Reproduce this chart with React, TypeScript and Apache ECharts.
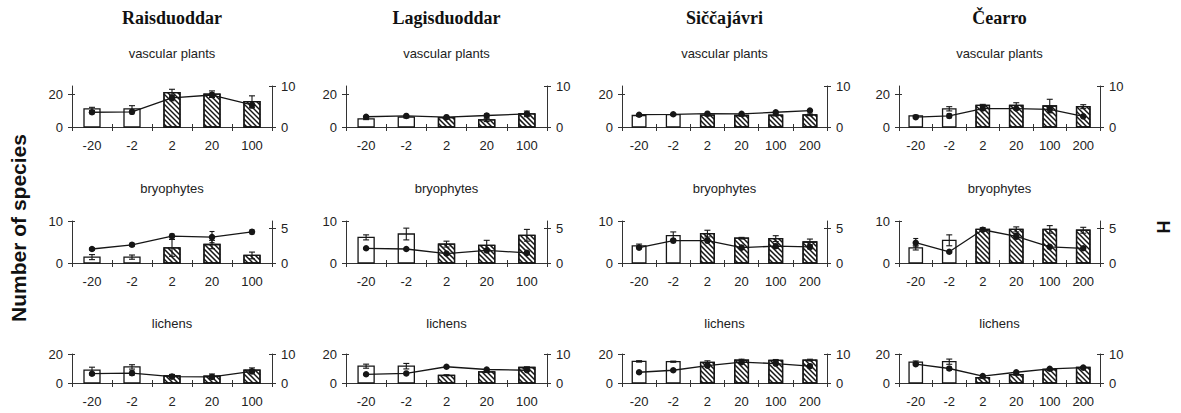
import React, { useEffect, useRef } from "react";
import * as echarts from "echarts";

// ---------- data ----------
const catsFive = ["-20", "-2", "2", "20", "100"];
const catsSix = ["-20", "-2", "2", "20", "100", "200"];
const sites = ["Raisduoddar", "Lagisduoddar", "Siččajávri", "Čearro"];
const groups = ["vascular plants", "bryophytes", "lichens"];

// Raisduoddar
const raisVasc = [11, 11, 21, 20, 15.5];
const raisVascErr = [1, 2, 2, 2, 3.5];
const raisVascH = [3.6, 3.7, 7.1, 7.8, 5.4];
const raisVascHErr = [0.4, 0.5, 0.7, 0.6, 0.8];
const raisBryo = [1.4, 1.4, 3.6, 4.4, 1.8];
const raisBryoErr = [0.6, 0.5, 2.0, 1.0, 0.8];
const raisBryoH = [2.0, 2.6, 3.85, 3.7, 4.45];
const raisBryoHErr = [0.2, 0.25, 0.3, 0.8, 0.3];
const raisLich = [8.9, 11.1, 4.9, 4.7, 8.9];
const raisLichErr = [2, 1.5, 1, 1.5, 1.5];
const raisLichH = [3.2, 3.4, 2.2, 2.1, 4.0];
const raisLichHErr = [0.5, 0.8, 0.4, 0.6, 0.6];

// Lagisduoddar
const lagiVasc = [5, 6, 5.7, 4.3, 8];
const lagiVascErr = [0.5, 0.5, 0.5, 1, 1.7];
const lagiVascH = [2.5, 2.7, 2.4, 2.8, 3.2];
const lagiVascHErr = [0.2, 0.2, 0.2, 0.45, 0.3];
const lagiBryo = [6.1, 6.9, 4.5, 4.2, 6.6];
const lagiBryoErr = [0.6, 1.4, 0.7, 1.2, 1.4];
const lagiBryoH = [2.1, 2.0, 1.35, 1.8, 1.45];
const lagiBryoHErr = [0.1, 0.1, 0.15, 0.2, 0.2];
const lagiLich = [11.6, 11.6, 5.3, 7.7, 10.7];
const lagiLichErr = [1.4, 1.9, 0.4, 0.5, 0.5];
const lagiLichH = [3.0, 3.3, 5.6, 4.65, 4.4];
const lagiLichHErr = [0.3, 0.3, 0.2, 0.3, 0.3];

// Siččajávri
const sicVasc = [7, 7.6, 7.2, 7, 7.2, 7.4];
const sicVascErr = [0.4, 0.4, 0.5, 0.4, 0.5, 0.5];
const sicVascH = [3.0, 3.1, 3.25, 3.2, 3.6, 4.0];
const sicVascHErr = [0.15, 0.15, 0.2, 0.15, 0.2, 0.2];
const sicBryo = [4.1, 6.5, 7.0, 5.9, 5.8, 5.0];
const sicBryoErr = [0.4, 0.9, 0.8, 0.2, 0.7, 0.7];
const sicBryoH = [2.2, 3.2, 3.2, 2.2, 2.4, 2.3];
const sicBryoHErr = [0.2, 0.3, 0.3, 0.2, 0.3, 0.3];
const sicLich = [14.9, 14.7, 14.2, 15.8, 15.6, 15.8];
const sicLichErr = [0.5, 0.4, 1.1, 0.6, 0.6, 0.6];
const sicLichH = [3.7, 4.4, 6.0, 7.2, 6.7, 5.8];
const sicLichHErr = [0.3, 0.3, 0.6, 0.4, 0.5, 0.5];

// Čearro
const cearVasc = [6.8, 11.1, 13.2, 13.2, 12.8, 12.4];
const cearVascErr = [0.4, 1.3, 0.6, 1.6, 4.1, 1.2];
const cearVascH = [2.4, 2.7, 4.5, 4.5, 4.3, 2.6];
const cearVascHErr = [0.2, 0.5, 0.4, 0.3, 0.8, 0.3];
const cearBryo = [3.6, 5.4, 8.0, 8.0, 8.0, 7.8];
const cearBryoErr = [0.5, 1.3, 0.4, 0.6, 0.9, 0.7];
const cearBryoH = [2.9, 1.6, 4.75, 3.8, 2.3, 2.1];
const cearBryoHErr = [0.6, 0.1, 0.2, 0.4, 0.2, 0.2];
const cearLich = [14.4, 14.7, 3.7, 5.8, 9.3, 10.7];
const cearLichErr = [0.8, 1.8, 0.3, 0.4, 0.4, 0.4];
const cearLichH = [6.5, 5.0, 2.4, 3.7, 4.9, 5.3];
const cearLichHErr = [0.4, 0.6, 0.2, 0.2, 0.2, 0.2];

// left (species) axis per row, right (H) axis per row
const leftMax = [25, 10, 20];
const leftTicks = [[0, 20], [0, 10], [0, 20]];
const rightMax = [10, 6, 10];
const rightTicks = [[0, 10], [0, 5], [0, 10]];

// ---------- layout ----------
const colX = [[72, 272], [346, 547], [622, 827], [899, 1100]];
const rowY = [[86, 127], [221, 263], [354, 383]];
const subtitleY = [53, 188, 323];

const siteCats = [catsFive, catsFive, catsSix, catsSix];
const panelData = [
  [
    [raisVasc, raisVascErr, raisVascH, raisVascHErr],
    [raisBryo, raisBryoErr, raisBryoH, raisBryoHErr],
    [raisLich, raisLichErr, raisLichH, raisLichHErr],
  ],
  [
    [lagiVasc, lagiVascErr, lagiVascH, lagiVascHErr],
    [lagiBryo, lagiBryoErr, lagiBryoH, lagiBryoHErr],
    [lagiLich, lagiLichErr, lagiLichH, lagiLichHErr],
  ],
  [
    [sicVasc, sicVascErr, sicVascH, sicVascHErr],
    [sicBryo, sicBryoErr, sicBryoH, sicBryoHErr],
    [sicLich, sicLichErr, sicLichH, sicLichHErr],
  ],
  [
    [cearVasc, cearVascErr, cearVascH, cearVascHErr],
    [cearBryo, cearBryoErr, cearBryoH, cearBryoHErr],
    [cearLich, cearLichErr, cearLichH, cearLichHErr],
  ],
];

const INK = "#161616";
const AXIS = "#333";
const SANS = '"Liberation Sans", Arial, sans-serif';
const SERIF = '"Liberation Serif", "Times New Roman", serif';

function barRender(params: any, api: any) {
  const idx = api.value(0);
  const v = api.value(1);
  const e = api.value(2);
  const hatched = api.value(3) === 1;
  const base = api.coord([idx, 0]);
  const top = api.coord([idx, v]);
  const bw = api.size([1, 0])[0] * 0.4;
  const x0 = base[0] - bw / 2;
  const x1 = base[0] + bw / 2;
  const y0 = top[1];
  const y1 = base[1];
  const children: any[] = [
    {
      type: "rect",
      shape: { x: x0, y: y0, width: bw, height: y1 - y0 },
      style: { fill: "#fff", stroke: INK, lineWidth: 1.3 },
    },
  ];
  if (hatched) {
    const s = 5;
    const cStart = Math.ceil((y0 - x1) / s) * s;
    for (let c = cStart; c <= y1 - x0; c += s) {
      const xa = Math.max(x0, y0 - c);
      const xb = Math.min(x1, y1 - c);
      if (xb - xa > 0.5) {
        children.push({
          type: "line",
          shape: { x1: xa, y1: xa + c, x2: xb, y2: xb + c },
          style: { stroke: INK, lineWidth: 1.5 },
        });
      }
    }
    children.push({
      type: "rect",
      shape: { x: x0, y: y0, width: bw, height: y1 - y0 },
      style: { fill: "none", stroke: INK, lineWidth: 1.3 },
    });
  }
  const hi = api.coord([idx, v + e]);
  const lo = api.coord([idx, Math.max(0, v - e)]);
  const cap = 3;
  children.push(
    { type: "line", shape: { x1: hi[0], y1: hi[1], x2: lo[0], y2: lo[1] }, style: { stroke: INK, lineWidth: 1.1 } },
    { type: "line", shape: { x1: hi[0] - cap, y1: hi[1], x2: hi[0] + cap, y2: hi[1] }, style: { stroke: INK, lineWidth: 1.1 } },
    { type: "line", shape: { x1: lo[0] - cap, y1: lo[1], x2: lo[0] + cap, y2: lo[1] }, style: { stroke: INK, lineWidth: 1.1 } }
  );
  return { type: "group", children };
}

function errRender(params: any, api: any) {
  const idx = api.value(0);
  const v = api.value(1);
  const e = api.value(2);
  const hi = api.coord([idx, v + e]);
  const lo = api.coord([idx, v - e]);
  const cap = 2.5;
  return {
    type: "group",
    children: [
      { type: "line", shape: { x1: hi[0], y1: hi[1], x2: lo[0], y2: lo[1] }, style: { stroke: INK, lineWidth: 1.1 } },
      { type: "line", shape: { x1: hi[0] - cap, y1: hi[1], x2: hi[0] + cap, y2: hi[1] }, style: { stroke: INK, lineWidth: 1.1 } },
      { type: "line", shape: { x1: lo[0] - cap, y1: lo[1], x2: lo[0] + cap, y2: lo[1] }, style: { stroke: INK, lineWidth: 1.1 } },
    ],
  };
}

function buildOption() {
  const grid: any[] = [];
  const xAxis: any[] = [];
  const yAxis: any[] = [];
  const series: any[] = [];
  const graphic: any[] = [];

  sites.forEach((site, c) => {
    const cx = (colX[c][0] + colX[c][1]) / 2;
    graphic.push({
      type: "text",
      x: cx,
      y: 18,
      style: {
        text: site,
        font: `bold 18px ${SERIF}`,
        fill: "#111",
        align: "center",
        verticalAlign: "middle",
        textAlign: "center",
        textVerticalAlign: "middle",
      },
    });
  });

  for (let c = 0; c < 4; c++) {
    for (let r = 0; r < 3; r++) {
      const p = grid.length;
      const cats = siteCats[c];
      const [n, ne, h, he] = panelData[c][r];
      const cx = (colX[c][0] + colX[c][1]) / 2;
      grid.push({
        left: colX[c][0],
        top: rowY[r][0],
        width: colX[c][1] - colX[c][0],
        height: rowY[r][1] - rowY[r][0],
        containLabel: false,
      });
      graphic.push({
        type: "text",
        x: cx,
        y: subtitleY[r],
        style: {
          text: groups[r],
          font: `13px ${SANS}`,
          fill: "#222",
          align: "center",
          verticalAlign: "middle",
          textAlign: "center",
          textVerticalAlign: "middle",
        },
      });
      const lineStyle = { color: AXIS, width: 1 };
      // x axes
      xAxis.push({
        type: "category",
        gridIndex: p,
        position: "bottom",
        data: cats,
        boundaryGap: true,
        axisLine: { show: true, onZero: false, lineStyle },
        axisTick: { show: true, length: 4, inside: false, lineStyle },
        axisLabel: { show: true, margin: 12, fontSize: 13, color: "#222", fontFamily: SANS },
        splitLine: { show: false },
      });
      xAxis.push({
        type: "category",
        gridIndex: p,
        position: "bottom",
        data: cats,
        boundaryGap: true,
        axisLine: { show: false, onZero: false },
        axisTick: { show: true, length: 3, inside: true, lineStyle },
        axisLabel: { show: false },
        splitLine: { show: false },
      });
      const lt = leftTicks[r];
      const rt = rightTicks[r];
      const mkY = (pos: string, max: number, ticks: number[], inside: boolean, main: boolean) => ({
        type: "value",
        gridIndex: p,
        position: pos,
        min: 0,
        max,
        interval: ticks[1],
        axisLine: { show: main, onZero: false, lineStyle },
        axisTick: { show: true, inside, length: inside ? 3 : 4, lineStyle, customValues: ticks },
        axisLabel: {
          show: main,
          margin: 9,
          fontSize: 13,
          color: "#222",
          fontFamily: SANS,
          customValues: ticks,
          formatter: (v: number) => (ticks.indexOf(v) >= 0 ? String(v) : ""),
        },
        splitLine: { show: false },
      });
      yAxis.push(mkY("left", leftMax[r], lt, false, true));
      yAxis.push(mkY("left", leftMax[r], lt, true, false));
      yAxis.push(mkY("right", rightMax[r], rt, false, true));
      yAxis.push(mkY("right", rightMax[r], rt, true, false));

      series.push({
        type: "custom",
        xAxisIndex: 2 * p,
        yAxisIndex: 4 * p,
        renderItem: barRender,
        encode: { x: 0, y: 1 },
        data: n.map((v: number, i: number) => [i, v, ne[i], i >= 2 ? 1 : 0]),
        z: 2,
        silent: true,
      });
      series.push({
        type: "custom",
        xAxisIndex: 2 * p,
        yAxisIndex: 4 * p + 2,
        renderItem: errRender,
        encode: { x: 0, y: 1 },
        data: h.map((v: number, i: number) => [i, v, he[i]]),
        z: 3,
        silent: true,
      });
      series.push({
        type: "line",
        xAxisIndex: 2 * p,
        yAxisIndex: 4 * p + 2,
        data: h,
        symbol: "circle",
        symbolSize: 6.5,
        showSymbol: true,
        lineStyle: { color: INK, width: 1.3 },
        itemStyle: { color: INK },
        z: 4,
        silent: true,
      });
    }
  }

  graphic.push({
    type: "text",
    x: 18,
    y: 228,
    rotation: Math.PI / 2,
    style: {
      text: "Number of species",
      font: `bold 21px ${SANS}`,
      fill: "#111",
      align: "center",
      verticalAlign: "middle",
      textAlign: "center",
      textVerticalAlign: "middle",
    },
  });
  graphic.push({
    type: "text",
    x: 1163,
    y: 227,
    rotation: -Math.PI / 2,
    style: {
      text: "H",
      font: `bold 18px ${SANS}`,
      fill: "#111",
      align: "center",
      verticalAlign: "middle",
      textAlign: "center",
      textVerticalAlign: "middle",
    },
  });

  return {
    animation: false,
    backgroundColor: "#fff",
    grid,
    xAxis,
    yAxis,
    series,
    graphic,
  };
}

export default function App() {
  const ref = useRef<HTMLDivElement>(null);
  useEffect(() => {
    if (!ref.current) return;
    const chart = echarts.init(ref.current, null, { renderer: "svg" });
    chart.setOption(buildOption() as any);
    return () => chart.dispose();
  }, []);
  return (
    <div
      ref={ref}
      style={{ position: "fixed", left: 0, top: 0, width: 1181, height: 413, background: "#fff" }}
    />
  );
}
